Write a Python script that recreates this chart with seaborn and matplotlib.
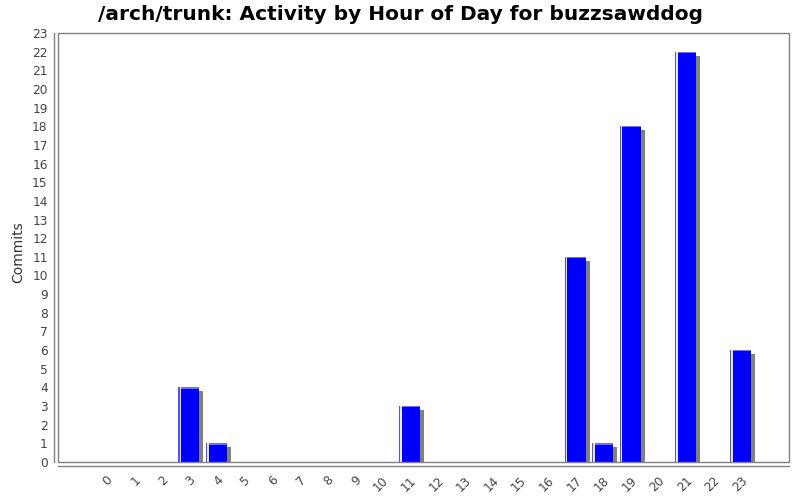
import matplotlib
matplotlib.use("Agg")
import matplotlib.pyplot as plt
import matplotlib.transforms as mtransforms
from matplotlib.patches import Rectangle
import seaborn as sns
import pandas as pd

hours = [str(h) for h in range(24)]
commits = [0, 0, 0, 4, 1, 0, 0, 0, 0, 0, 0, 3, 0, 0, 0, 0, 0, 11, 1, 18, 0, 22, 0, 6]
y_ticks = list(range(0, 24))

title = "/arch/trunk: Activity by Hour of Day for buzzsawddog"
y_label = "Commits"

df = pd.DataFrame({"hour": hours, "commits": commits})

sns.set_style("white")
plt.rcParams["font.family"] = ["DejaVu Sans"]

W, H, DPI = 800, 500, 100
fig = plt.figure(figsize=(W / DPI, H / DPI), dpi=DPI)
left, right, top, bottom = 58, 789, 33, 462
ax = fig.add_axes([left / W, 1 - bottom / H, (right - left) / W, (bottom - top) / H])

xlim = (-1.74, 24.75)
ylim = (0, 23)
px_x = (xlim[1] - xlim[0]) / (right - left)   # data units per pixel, x
px_y = (ylim[1] - ylim[0]) / (bottom - top)   # data units per pixel, y
bar_w = 0.76

# drop shadow, shifted 4 px right and 4 px down
sns.barplot(data=df, x="hour", y="commits", order=hours, color="#808080",
            width=bar_w, saturation=1, ax=ax, zorder=1, errorbar=None)
shadow = list(ax.patches)
shift = mtransforms.ScaledTranslation(4 / DPI, -4 / DPI, fig.dpi_scale_trans)
for p in shadow:
    p.set_transform(ax.transData + shift)
    p.set_linewidth(0)

# main bars
sns.barplot(data=df, x="hour", y="commits", order=hours, color="#0000ff",
            width=bar_w, saturation=1, ax=ax, zorder=2, errorbar=None)
main = [p for p in ax.patches if p not in shadow]
for p in main:
    p.set_linewidth(0)
    h = p.get_height()
    if h <= 0:
        continue
    x0 = p.get_x()
    w = p.get_width()
    # light edge along the top
    ax.add_patch(Rectangle((x0, h - 1.2 * px_y), w, 1.2 * px_y,
                           facecolor="#7070ff", linewidth=0, zorder=3))
    # bright left edge with a white gap
    ax.add_patch(Rectangle((x0, 0), 1.2 * px_x, h,
                           facecolor="#5050ff", linewidth=0, zorder=3))
    ax.add_patch(Rectangle((x0 + 1.2 * px_x, 0), 1.4 * px_x, h,
                           facecolor="#e8e8ff", linewidth=0, zorder=3))

ax.set_xlim(*xlim)
ax.set_ylim(*ylim)
ax.set_yticks(y_ticks)
ax.set_yticklabels([str(v) for v in y_ticks])

gray = "#808080"
text_c = "#444444"

# plot frame
ax.add_patch(Rectangle((0, 0), 1, 1, transform=ax.transAxes, fill=False,
                       edgecolor=gray, linewidth=1.0, zorder=5, clip_on=False))

for s in ["top", "right"]:
    ax.spines[s].set_visible(False)
for s in ["left", "bottom"]:
    ax.spines[s].set_visible(True)
    ax.spines[s].set_color(gray)
    ax.spines[s].set_linewidth(1.0)
    ax.spines[s].set_position(("outward", 4 * 72 / DPI))

ax.tick_params(axis="both", which="both", direction="out", length=2.5, width=0.8,
               color=gray, labelcolor=text_c, labelsize=8.8, pad=2)
ax.tick_params(axis="x", pad=3)
for lbl in ax.get_xticklabels():
    lbl.set_rotation(45)
    lbl.set_ha("right")
    lbl.set_va("top")
    lbl.set_rotation_mode("anchor")

ax.set_xlabel("")
ax.set_ylabel(y_label, fontsize=10, color="#333333")
ax.yaxis.set_label_coords(-(left - 25) / (right - left), 0.49)
fig.text(401 / W, 1 - 14 / H, title, fontsize=14.5, fontweight="bold",
         color="black", ha="center", va="center")

fig.savefig("out.png", dpi=DPI)
